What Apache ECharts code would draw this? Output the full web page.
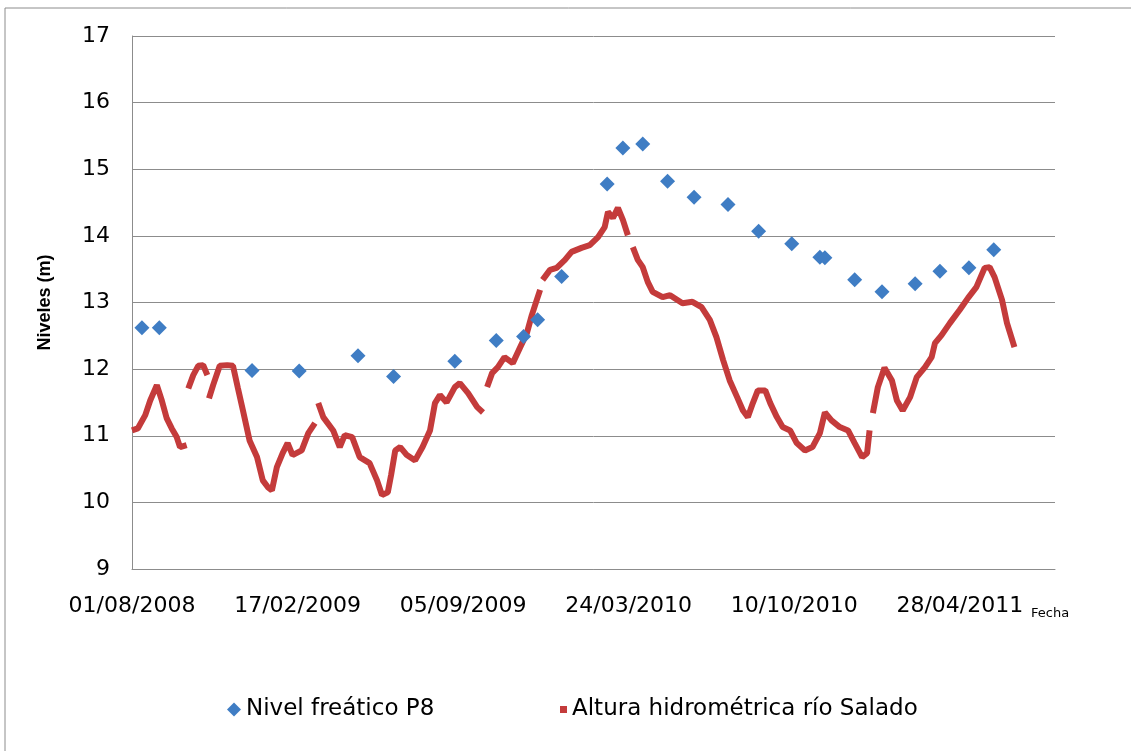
<!DOCTYPE html>
<html lang="es">
<head>
<meta charset="UTF-8">
<title>Niveles</title>
<script src="https://cdn.jsdelivr.net/npm/echarts@6/dist/echarts.min.js"></script>
<style>
html,body{margin:0;padding:0;background:#fff;}
#chartData{width:1131px;height:751px;}
</style>
</head>
<body>
<div id="chartData"></div>
<script>
// dias contados desde 01/08/2008
var fechaBase = Date.UTC(2008, 7, 1);
var ejeMin = 0, ejeMax = 1115, ejePaso = 200;
var nivelTicks = [9, 10, 11, 12, 13, 14, 15, 16, 17];

// Nivel freatico P8 (rombos)
var nivelDias = [12, 33, 145, 202, 273, 316, 390, 440, 473, 490, 519, 574, 593, 617, 647, 679, 720, 757, 797, 831, 837, 873, 906, 946, 976, 1011, 1041];
var nivelValores = [12.62, 12.62, 11.98, 11.97, 12.20, 11.89, 12.12, 12.43, 12.49, 12.74, 13.39, 14.78, 15.32, 15.38, 14.82, 14.58, 14.47, 14.07, 13.88, 13.68, 13.67, 13.34, 13.16, 13.28, 13.47, 13.52, 13.79];

// Altura hidrometrica rio Salado (null = sin dato)
var alturaDias = [0, 7, 16, 22, 30, 36, 42, 48, 54, 58, 66, 67,
    68, 74, 80, 86, 91, 92,
    93, 98, 106, 115, 122, 128, 134, 142, 151, 158, 164, 169, 175, 182, 188, 194, 205, 213, 221, 222,
    223, 224,
    225, 231, 243, 251, 257, 266, 275, 287, 296, 302, 309, 313, 318, 324, 332, 342, 351, 360, 366, 372, 380, 390, 396, 406, 417, 424, 426,
    429, 435, 442, 450, 460, 469, 477, 483, 489, 493, 494, 496, 505, 513, 523, 531, 543, 553, 563, 571, 575, 581, 587, 593, 599, 602,
    605, 611, 617, 623, 629, 641, 650, 665, 677, 688, 698, 706, 714, 722, 731, 738, 744, 750, 756, 765, 771, 779, 786, 795, 803, 813, 822, 831, 837, 845, 855, 865, 873, 882, 888, 891, 893,
    895, 901, 909, 918, 924, 931, 940, 948, 958, 966, 970, 978, 988, 1000, 1010, 1020, 1030, 1036, 1042, 1051, 1057, 1066];
var alturaValores = [11.08, 11.11, 11.31, 11.53, 11.76, 11.53, 11.26, 11.11, 10.98, 10.83, 10.86, null,
    11.71, 11.91, 12.05, 12.06, 11.91, null,
    11.56, 11.76, 12.05, 12.06, 12.05, 11.71, 11.38, 10.93, 10.68, 10.33, 10.23, 10.18, 10.53, 10.74, 10.89, 10.71, 10.78, 11.04, 11.19, null,
    11.68, null,
    11.49, 11.28, 11.08, 10.83, 11.01, 10.98, 10.68, 10.59, 10.33, 10.11, 10.15, 10.41, 10.78, 10.83, 10.71, 10.63, 10.83, 11.08, 11.49, 11.61, 11.50, 11.73, 11.79, 11.64, 11.43, 11.35, null,
    11.73, 11.94, 12.03, 12.18, 12.09, 12.33, 12.54, 12.81, 13.04, 13.19, null, 13.34, 13.49, 13.52, 13.64, 13.76, 13.82, 13.86, 13.98, 14.13, 14.36, 14.27, 14.42, 14.24, 14.01, null,
    13.83, 13.64, 13.53, 13.31, 13.16, 13.08, 13.11, 12.99, 13.01, 12.93, 12.74, 12.48, 12.14, 11.83, 11.58, 11.38, 11.28, 11.49, 11.68, 11.68, 11.49, 11.28, 11.13, 11.08, 10.89, 10.78, 10.83, 11.04, 11.35, 11.23, 11.13, 11.08, 10.89, 10.68, 10.74, 11.08, null,
    11.34, 11.73, 12.02, 11.83, 11.53, 11.38, 11.58, 11.88, 12.03, 12.18, 12.39, 12.51, 12.69, 12.89, 13.07, 13.23, 13.52, 13.53, 13.38, 13.04, 12.69, 12.33];

function pad(n) {
    return n < 10 ? '0' + n : '' + n;
}

function diaAFecha(v) {
    if (v % ejePaso !== 0) return '';
    var d = new Date(fechaBase + v * 86400000);
    return pad(d.getUTCDate()) + '/' + pad(d.getUTCMonth() + 1) + '/' + d.getUTCFullYear();
}

function pares(xs, ys) {
    var out = [];
    for (var i = 0; i < xs.length; i++) {
        out.push([xs[i], ys[i]]);
    }
    return out;
}

var azul = '#3F7DC4', rojo = '#C43B3B', gris = '#8C8C8C';
var fuente = 'DejaVu Sans';

var myChart = echarts.init(document.getElementById('chartData'));
var option = {
    backgroundColor: '#fff',
    animation: false,
    title: {
        text: 'Fecha',
        left: 1026,
        top: 602,
        textStyle: {fontFamily: fuente, fontSize: 13, fontWeight: 'normal', color: '#000'}
    },
    graphic: [{
        type: 'rect',
        shape: {x: 5, y: 8, width: 1140, height: 760},
        style: {fill: 'none', stroke: gris, lineWidth: 1}
    }],
    grid: {left: 132, right: 76, top: 36, bottom: 182},
    legend: [{
        data: ['Nivel freático P8'],
        left: 222,
        top: 693,
        icon: 'diamond',
        itemWidth: 14,
        itemHeight: 14,
        itemGap: 5,
        textStyle: {fontFamily: fuente, fontSize: 23, color: '#000'}
    }, {
        data: ['Altura hidrométrica río Salado'],
        left: 555,
        top: 693,
        icon: 'rect',
        itemWidth: 7,
        itemHeight: 7,
        textStyle: {fontFamily: fuente, fontSize: 23, color: '#000'}
    }],
    xAxis: {
        type: 'value',
        min: ejeMin,
        max: ejeMax,
        interval: ejePaso,
        axisLine: {show: true, lineStyle: {color: gris, width: 1}},
        axisTick: {show: false},
        splitLine: {show: false},
        axisLabel: {
            formatter: diaAFecha,
            margin: 26,
            fontFamily: fuente,
            fontSize: 22,
            color: '#000',
            showMaxLabel: false
        }
    },
    yAxis: {
        type: 'value',
        min: nivelTicks[0],
        max: nivelTicks[nivelTicks.length - 1],
        interval: 1,
        name: 'Niveles (m)',
        nameLocation: 'middle',
        nameGap: 78,
        nameTextStyle: {fontFamily: 'Liberation Sans', fontSize: 18, fontWeight: 'bold', color: '#000'},
        axisLine: {show: true, lineStyle: {color: gris, width: 1}},
        axisTick: {show: false},
        splitLine: {show: true, lineStyle: {color: gris, width: 1}},
        axisLabel: {margin: 22, fontFamily: fuente, fontSize: 22, color: '#000'}
    },
    series: [{
        name: 'Altura hidrométrica río Salado',
        type: 'line',
        data: pares(alturaDias, alturaValores),
        showSymbol: false,
        symbol: 'rect',
        connectNulls: false,
        lineStyle: {color: rojo, width: 6},
        itemStyle: {color: rojo},
        z: 2
    }, {
        name: 'Nivel freático P8',
        type: 'scatter',
        data: pares(nivelDias, nivelValores),
        symbol: 'diamond',
        symbolSize: 15,
        itemStyle: {color: azul, opacity: 1},
        z: 3
    }]
};
myChart.setOption(option);
</script>
</body>
</html>
